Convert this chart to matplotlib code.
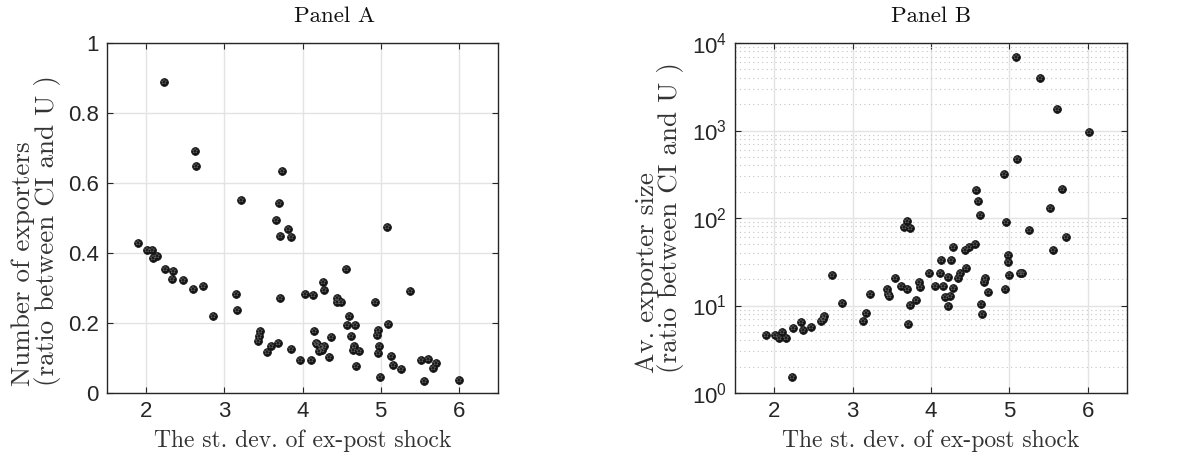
import matplotlib
matplotlib.use("Agg")
import matplotlib.pyplot as plt
from matplotlib.ticker import FixedLocator, FixedFormatter, LogLocator, NullFormatter

plt.rcParams['mathtext.fontset'] = 'custom'
plt.rcParams['mathtext.rm'] = 'Liberation Sans'
plt.rcParams['mathtext.it'] = 'Liberation Sans'
plt.rcParams['axes.formatter.use_mathtext'] = False

# ---------------- data ----------------
# Panel A: number of exporters (ratio between CI and U)
x_a = [1.898, 2.23, 2.017, 2.072, 2.094, 2.145, 2.238, 2.349, 2.336, 2.472,
       2.596, 2.732, 2.626, 2.634, 2.855, 3.149, 3.157, 3.213, 3.426, 3.438,
       3.451, 3.540, 3.600, 3.660, 3.689, 3.702, 3.711, 3.715, 3.736, 3.809,
       3.847, 3.855, 3.966, 4.038, 4.115, 4.128, 4.149, 4.170, 4.191, 4.217,
       4.238, 4.260, 4.272, 4.272, 4.251, 4.345, 4.370, 4.447, 4.447, 4.489,
       4.553, 4.566, 4.591, 4.626, 4.643, 4.655, 4.668, 4.689, 4.723, 4.923,
       4.949, 4.962, 4.966, 4.983, 4.996, 5.077, 5.089, 5.128, 5.157, 5.255,
       5.374, 5.519, 5.557, 5.609, 5.664, 5.702, 6.000]
y_a = [0.429, 0.888, 0.410, 0.410, 0.385, 0.391, 0.354, 0.349, 0.325, 0.322,
       0.297, 0.307, 0.691, 0.650, 0.221, 0.284, 0.238, 0.550, 0.149, 0.164,
       0.178, 0.117, 0.135, 0.493, 0.143, 0.543, 0.448, 0.272, 0.634, 0.470,
       0.127, 0.445, 0.095, 0.284, 0.095, 0.281, 0.177, 0.144, 0.139, 0.119,
       0.132, 0.316, 0.294, 0.134, 0.124, 0.102, 0.159, 0.272, 0.260, 0.260,
       0.354, 0.194, 0.221, 0.162, 0.124, 0.135, 0.194, 0.077, 0.120, 0.260,
       0.167, 0.179, 0.115, 0.135, 0.045, 0.473, 0.196, 0.106, 0.080, 0.068,
       0.291, 0.095, 0.033, 0.098, 0.071, 0.087, 0.036]

# Panel B: average exporter size (ratio between CI and U)
x_b = [1.894, 2.013, 2.064, 2.094, 2.153, 2.230, 2.238, 2.336, 2.361, 2.472,
       2.595, 2.621, 2.638, 2.735, 2.859, 3.139, 3.165, 3.216, 3.441, 3.450,
       3.467, 3.539, 3.616, 3.658, 3.688, 3.697, 3.726, 3.713, 3.734, 3.815,
       3.849, 3.857, 3.972, 4.045, 4.121, 4.130, 4.159, 4.176, 4.219, 4.219,
       4.240, 4.253, 4.278, 4.283, 4.342, 4.376, 4.436, 4.444, 4.491, 4.563,
       4.568, 4.602, 4.627, 4.640, 4.653, 4.670, 4.683, 4.725, 4.933, 4.946,
       4.959, 4.976, 4.988, 4.997, 5.082, 5.095, 5.133, 5.163, 5.256, 5.384,
       5.524, 5.554, 5.605, 5.677, 5.719, 6.012]
y_b = [4.56, 4.56, 4.29, 4.98, 4.29, 1.52, 5.58, 6.53, 5.20, 5.73,
       6.59, 7.07, 7.65, 22.5, 10.6, 6.59, 8.13, 13.7, 15.3, 13.6,
       12.9, 20.6, 16.7, 78.2, 15.3, 93.3, 77.6, 6.09, 10.2, 11.5,
       18.6, 16.3, 23.7, 16.9, 23.7, 32.8, 16.9, 12.4, 21.4, 9.96,
       12.7, 32.8, 46.2, 16.0, 20.8, 23.5, 43.5, 26.8, 46.6, 50.9,
       209, 158, 107, 10.3, 7.93, 18.6, 20.6, 14.1, 321, 15.4,
       90, 31.4, 38.1, 22.5, 6918, 468, 23.7, 23.7, 73.6, 4018,
       131, 43.5, 1762, 214, 60.1, 962]

x_ticks = [2, 3, 4, 5, 6]
y_ticks_a = [0, 0.2, 0.4, 0.6, 0.8, 1]
y_ticklabels_a = ['0', '0.2', '0.4', '0.6', '0.8', '1']
y_ticks_b = [1, 10, 100, 1000, 10000]
y_ticklabels_b = [r'$\mathregular{10^{0}}$', r'$\mathregular{10^{1}}$', r'$\mathregular{10^{2}}$',
                  r'$\mathregular{10^{3}}$', r'$\mathregular{10^{4}}$']

titles = ['Panel A', 'Panel B']
xlabel = 'The st. dev. of ex-post shock'
ylabels = ['Number of exporters\n(ratio between CI and U )',
           'Av. exporter size\n(ratio between CI and U )']

# ---------------- figure ----------------
W, H = 1193, 463
fig = plt.figure(figsize=(W / 100, H / 100), dpi=100)
axA = fig.add_axes([107 / W, 70 / H, 391 / W, 350 / H])
axB = fig.add_axes([735 / W, 70 / H, 392 / W, 350 / H])

serif = 'cmr10'
tick_font = 'Liberation Sans'
spine_col = '#262626'
label_col = '#262626'


def draw_points(ax, xs, ys):
    ax.plot(xs, ys, linestyle='none', marker='o', markersize=5.6,
            markerfacecolor='#141414', markeredgecolor='#141414', markeredgewidth=0.6, zorder=3)
    ax.plot(xs, ys, linestyle='none', marker='*', markersize=4.2,
            markerfacecolor='none', markeredgecolor='#6a6a6a', markeredgewidth=0.35, zorder=4)


def style(ax, title, ylabel, title_x, ylab_x, ylab_y):
    ax.set_xlim(1.5, 6.5)
    ax.xaxis.set_major_locator(FixedLocator(x_ticks))
    for s in ax.spines.values():
        s.set_color(spine_col)
        s.set_linewidth(1.0)
    ax.tick_params(axis='both', which='major', direction='in', length=4, width=0.8,
                   color=spine_col, top=True, right=True, labelsize=16, labelcolor=label_col, pad=6)
    ax.tick_params(axis='both', which='minor', direction='in', length=0, top=True, right=True)
    for lab in ax.get_xticklabels() + ax.get_yticklabels():
        lab.set_family(tick_font)
    t = ax.set_title(title, fontfamily=serif, fontsize=16.5, color='#111111', pad=15)
    t.set_x(title_x)
    ax.set_xlabel(xlabel, fontfamily=serif, fontsize=17, color='#333333', labelpad=5)
    ax.set_ylabel(ylabel, fontfamily=serif, fontsize=19.5, color='#333333',
                  linespacing=0.92, multialignment='left')
    ax.yaxis.set_label_coords(ylab_x, ylab_y)
    ax.set_axisbelow(True)


# Panel A
draw_points(axA, x_a, y_a)
axA.set_ylim(0, 1)
axA.yaxis.set_major_locator(FixedLocator(y_ticks_a))
axA.yaxis.set_major_formatter(FixedFormatter(y_ticklabels_a))
axA.grid(True, which='major', color='#e3e3e3', linewidth=1.0)
style(axA, titles[0], ylabels[0], 0.583, -0.118, 0.465)

# Panel B
draw_points(axB, x_b, y_b)
axB.set_yscale('log')
axB.set_ylim(1, 10000)
axB.yaxis.set_major_locator(FixedLocator(y_ticks_b))
axB.yaxis.set_major_formatter(FixedFormatter(y_ticklabels_b))
axB.yaxis.set_minor_locator(LogLocator(base=10, subs=[2, 3, 4, 5, 6, 7, 8, 9]))
axB.yaxis.set_minor_formatter(NullFormatter())
axB.grid(True, which='major', axis='both', color='#e3e3e3', linewidth=1.0)
axB.grid(True, which='minor', axis='y', color='#c4c4c4', linewidth=0.8, linestyle=(0, (1, 3)))
style(axB, titles[1], ylabels[1], 0.5, -0.13, 0.5)

fig.savefig('out.png', dpi=100)
